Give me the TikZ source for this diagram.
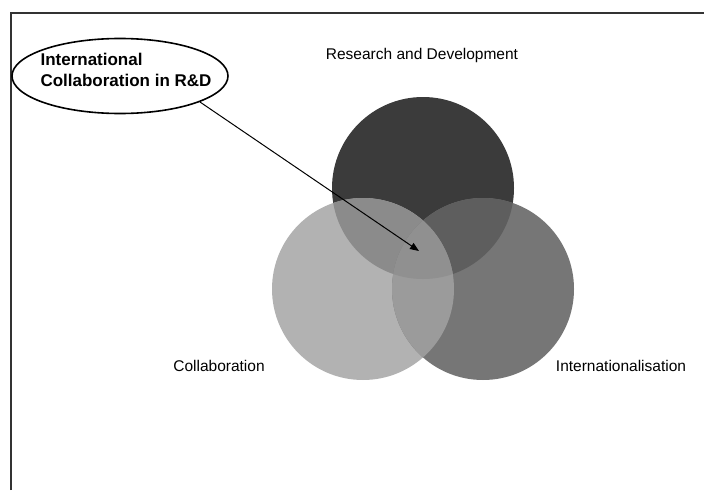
\documentclass[tikz,border=0pt]{standalone}
\usepackage{fontspec}
\setmainfont{Liberation Sans}
\usetikzlibrary{arrows.meta,shapes.geometric}

\definecolor{rdgray}{HTML}{3B3B3B}
\definecolor{cogray}{HTML}{B2B2B2}
\definecolor{ingray}{HTML}{767676}
\definecolor{rdcogray}{HTML}{8B8B8B}
\definecolor{rdingray}{HTML}{5E5E5E}
\definecolor{coingray}{HTML}{9B9B9B}
\definecolor{allgray}{HTML}{909090}

\tikzset{
  setlabel/.style={font=\fontsize{15.5}{18}\selectfont, inner sep=0pt},
  callout/.style={draw, ellipse, line width=1.6pt, minimum width=216pt,
    minimum height=75pt, inner sep=0pt},
  callouttext/.style={font=\bfseries\fontsize{17}{21.5}\selectfont,
    align=left, inner sep=0pt},
  pointer/.style={line width=1pt, -{Triangle[length=9pt,width=7pt]}},
  frameline/.style={line width=1.6pt, black!80}
}

\begin{document}
\begin{tikzpicture}[x=1pt, y=-1pt]
    \useasboundingbox (0,0) rectangle (704,490);

    % Frame (top and left edges only)
    \draw[frameline] (11,490) -- (11,13) -- (704,13);

    % Circle centres
    \coordinate (rd) at (423,188);
    \coordinate (co) at (363,289);
    \coordinate (in) at (483,289);

    % The three sets
    \fill[rdgray] (rd) circle (91);
    \fill[cogray] (co) circle (91);
    \fill[ingray] (in) circle (91);

    % Pairwise overlaps
    \begin{scope}
      \clip (rd) circle (91);
      \fill[rdcogray] (co) circle (91);
      \fill[rdingray] (in) circle (91);
    \end{scope}
    \begin{scope}
      \clip (co) circle (91);
      \fill[coingray] (in) circle (91);
    \end{scope}

    % Centre where all three meet
    \begin{scope}
      \clip (rd) circle (91);
      \clip (co) circle (91);
      \fill[allgray] (in) circle (91);
    \end{scope}

    % Set labels
    \node[setlabel] (rdlabel) at (422,55) {Research and Development};
    \node[setlabel] (colabel) at (219,366) {Collaboration};
    \node[setlabel] (inlabel) at (621,366) {Internationalisation};

    % Callout pointing at the middle
    \node[callout] (callout) at (120,76) {};
    \node[callouttext] (callouttxt) at (126,70) {International\\Collaboration in R\&D};
    \coordinate (tip) at (419,251);
    \draw[pointer] (callout.-18) -- (tip);
  \end{tikzpicture}
\end{document}
